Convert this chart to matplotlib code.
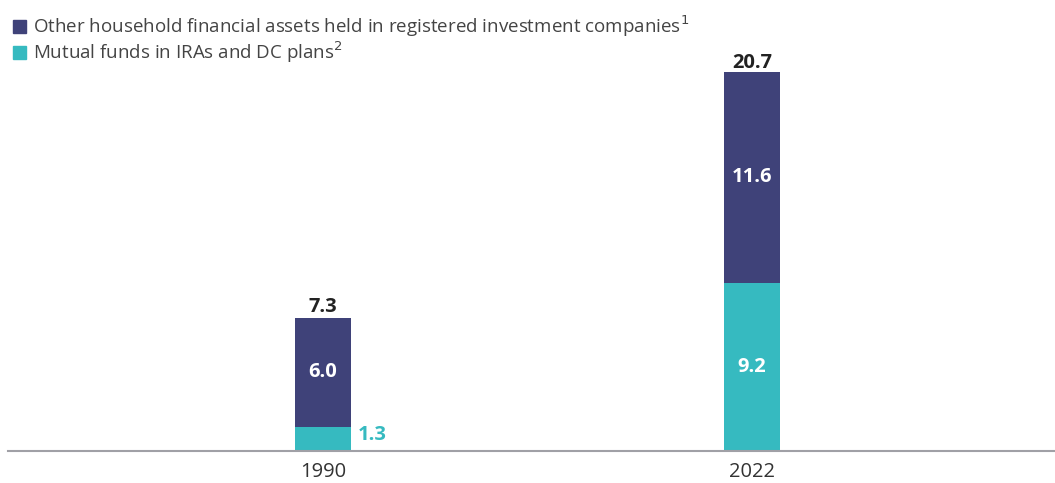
import matplotlib.pyplot as plt
from matplotlib.patches import Patch

# data (trillions of dollars)
years = ['1990', '2022']
mutual_funds = [1.3, 9.2]
other_assets = [6.0, 11.6]
totals = [7.3, 20.7]

NAVY = '#3F4279'
TEAL = '#36BAC0'

plt.rcParams['font.family'] = ['Open Sans', 'DejaVu Sans']

fig = plt.figure(figsize=(10.55, 4.83), dpi=100)
ax = fig.add_axes([0.0076, 0.0669, 0.9924, 0.905])

x = range(len(years))
w = 0.13
ax.bar(x, mutual_funds, width=w, color=TEAL)
ax.bar(x, other_assets, width=w, bottom=mutual_funds, color=NAVY)

for i in x:
    # other assets label in middle of navy segment
    ax.text(i, mutual_funds[i] + other_assets[i] / 2, f'{other_assets[i]:.1f}',
            ha='center', va='center', color='white', fontsize=14.5, fontweight='bold')
    ax.text(i, totals[i] + 0.05, f'{totals[i]:.1f}', ha='center', va='bottom',
            color='#222222', fontsize=14.5, fontweight='bold')
    if mutual_funds[i] < 3:
        ax.text(i + w / 2 + 0.015, mutual_funds[i] / 2 + 0.2, f'{mutual_funds[i]:.1f}',
                ha='left', va='center', color=TEAL, fontsize=14.5, fontweight='bold')
    else:
        ax.text(i, mutual_funds[i] / 2, f'{mutual_funds[i]:.1f}', ha='center', va='center',
                color='white', fontsize=14.5, fontweight='bold')

ax.set_xlim(-0.734, 1.706)
ax.set_ylim(0, 24)
ax.set_xticks(list(x))
ax.set_xticklabels(years, fontsize=14.5, color='#333333')
ax.tick_params(axis='x', length=0, pad=8)
ax.set_yticks([])
for s in ['top', 'right', 'left']:
    ax.spines[s].set_visible(False)
ax.spines['bottom'].set_color('#A0A0A6')
ax.spines['bottom'].set_linewidth(1.5)

handles = [Patch(color=NAVY), Patch(color=TEAL)]
labels = ['Other household financial assets held in registered investment companies$^1$',
          'Mutual funds in IRAs and DC plans$^2$']
fig.legend(handles, labels, loc='upper left', bbox_to_anchor=(0.0, 1.0),
           frameon=False, fontsize=13.5, handlelength=0.7, handleheight=0.7,
           handletextpad=0.35, labelspacing=0.05, borderaxespad=0.3, labelcolor='#444444')

fig.savefig('out.png', dpi=100, facecolor='white')
